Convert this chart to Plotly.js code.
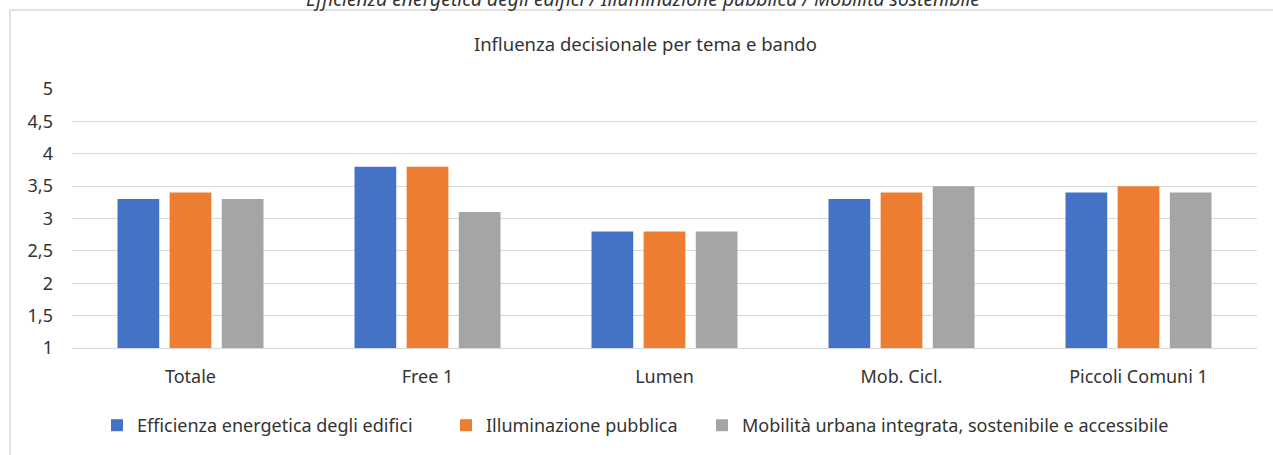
<!DOCTYPE html>
<html>
<head>
<meta charset="utf-8">
<script src="https://cdn.plot.ly/plotly-3.0.1.min.js"></script>
<style>
html,body{margin:0;padding:0;background:#fff;}
#chart{width:1273px;height:455px;}
</style>
</head>
<body>
<div id="chart"></div>
<script>
const categories = ["Totale", "Free 1", "Lumen", "Mob. Cicl.", "Piccoli Comuni 1"];
const seriesNames = [
  "Efficienza energetica degli edifici",
  "Illuminazione pubblica",
  "Mobilità urbana integrata, sostenibile e accessibile"
];
const efficienza = [3.3, 3.8, 2.8, 3.3, 3.4];
const illuminazione = [3.4, 3.8, 2.8, 3.4, 3.5];
const mobilita = [3.3, 3.1, 2.8, 3.5, 3.4];
const colors = ["#4472C4", "#ED7D31", "#A5A5A5"];
const yTicks = [1, 1.5, 2, 2.5, 3, 3.5, 4, 4.5, 5];

const FONT = "Noto Sans, sans-serif";
const legendIds = ["legend", "legend2", "legend3"];
const legendLeftPx = [97, 446, 702];
const seriesValues = [efficienza, illuminazione, mobilita];
const traces = seriesValues.map((vals, i) => ({
  type: "bar",
  name: seriesNames[i],
  x: categories,
  y: vals,
  marker: {color: colors[i]},
  legend: legendIds[i],
  hoverinfo: "x+y+name"
}));

const layout = {
  width: 1273,
  height: 455,
  margin: {l: 72, r: 16, t: 89, b: 107, pad: 0},
  paper_bgcolor: "#ffffff",
  plot_bgcolor: "#ffffff",
  separators: ",.",
  barmode: "group",
  bargap: 0.34,
  bargroupgap: 0.2,
  font: {family: FONT, color: "#333333", size: 18},
  title: {
    text: "Influenza decisionale per tema e bando",
    font: {family: FONT, size: 18.5, color: "#333333"},
    x: 0.507, xanchor: "center",
    y: 1 - 45/455, yanchor: "middle", yref: "container"
  },
  xaxis: {
    type: "category",
    showgrid: false,
    showline: true,
    linecolor: "#d9d9d9",
    linewidth: 1,
    ticks: "",
    tickfont: {family: FONT, size: 18, color: "#333333"},
    ticklabelstandoff: 12,
    automargin: false
  },
  yaxis: {
    range: [1, 5],
    tickvals: yTicks,
    tickformat: ".1~f",
    showgrid: true,
    gridcolor: "#d9d9d9",
    gridwidth: 1,
    zeroline: false,
    showline: false,
    ticks: "",
    ticklabelstandoff: 18,
    automargin: false,
    tickfont: {family: FONT, size: 18, color: "#333333"}
  },
  shapes: [{
    type: "rect", xref: "paper", yref: "paper",
    x0: (10 - 72) / 1185, x1: (1300 - 72) / 1185,
    y0: (348 - 470) / 259, y1: (348 - 10) / 259,
    line: {color: "#d9d9d9", width: 1.5},
    fillcolor: "rgba(0,0,0,0)", layer: "below"
  }],
  annotations: [{
    text: "<i>Efficienza energetica degli edifici / Illuminazione pubblica / Mobilità sostenibile</i>",
    xref: "paper", yref: "paper",
    x: (643 - 72) / 1185, xanchor: "center",
    y: (348 + 2) / 259, yanchor: "middle",
    showarrow: false,
    font: {family: FONT, size: 19.3, color: "#333333"}
  }],
  showlegend: true
};

legendIds.forEach((id, i) => {
  layout[id] = {
    orientation: "h",
    xref: "container", yref: "container",
    x: legendLeftPx[i] / 1273, xanchor: "left",
    y: 1 - 407 / 455, yanchor: "top",
    font: {family: FONT, size: 18, color: "#333333"},
    bgcolor: "rgba(0,0,0,0)",
    itemclick: false, itemdoubleclick: false
  };
});

Plotly.newPlot("chart", traces, layout, {displayModeBar: false, responsive: false});
</script>
</body>
</html>
